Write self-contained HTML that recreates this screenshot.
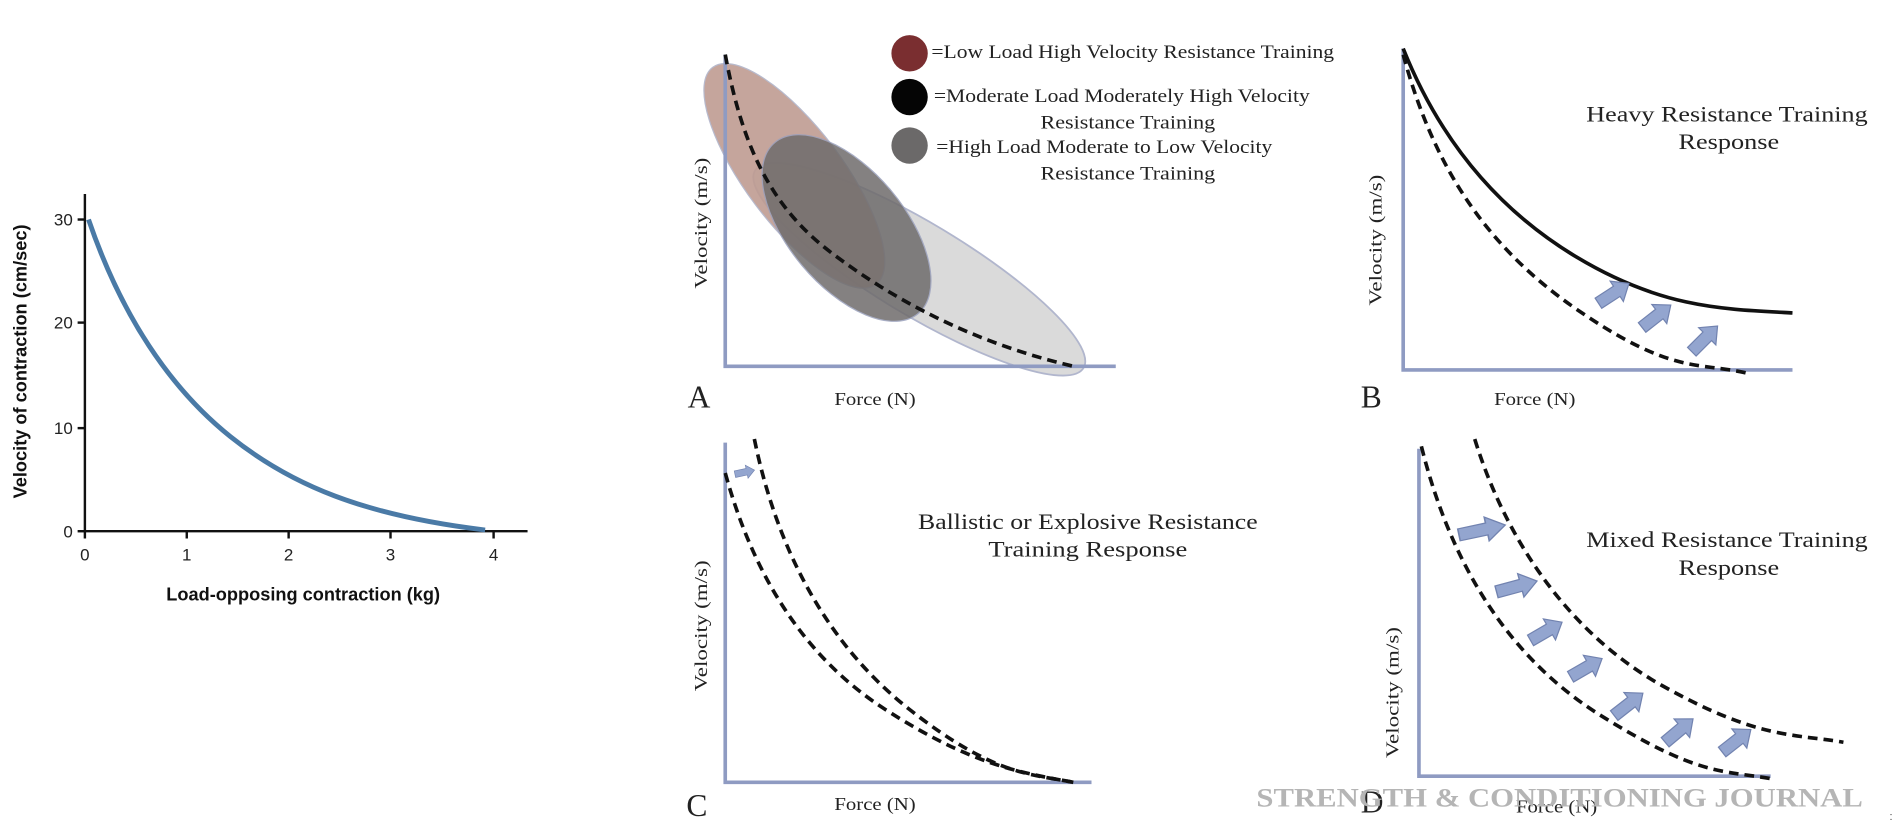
<!DOCTYPE html>
<html><head><meta charset="utf-8"><style>
html,body{margin:0;padding:0;background:#fff;width:1898px;height:832px;overflow:hidden}
svg{display:block}
.s{font-family:"Liberation Sans",sans-serif}
.r{font-family:"Liberation Serif",serif;fill:#222}
.d{fill:none;stroke:#111;stroke-width:3;stroke-dasharray:8 5}
.ax{stroke:#8f9bc2;stroke-width:3;fill:none}
</style></head><body>
<svg width="1898" height="832" viewBox="0 0 1565 686" preserveAspectRatio="none">
<defs>
<g id="ar"><polygon points="0,-5 18,-5 18,-10 30,0 18,10 18,5 0,5" fill="#93a5cf" stroke="#7283b0" stroke-width="1"/></g>
</defs>
<!-- Left chart -->
<g class="s">
<path d="M70 160 V438 H435" stroke="#111" stroke-width="2" fill="none"/>
<g stroke="#111" stroke-width="2">
<line x1="64" y1="181" x2="70" y2="181"/><line x1="64" y1="266" x2="70" y2="266"/><line x1="64" y1="353" x2="70" y2="353"/><line x1="64" y1="438" x2="70" y2="438"/>
<line x1="70" y1="438" x2="70" y2="444"/><line x1="154" y1="438" x2="154" y2="444"/><line x1="238" y1="438" x2="238" y2="444"/><line x1="322" y1="438" x2="322" y2="444"/><line x1="407" y1="438" x2="407" y2="444"/>
</g>
<g font-size="14" fill="#222" text-anchor="end">
<text x="60" y="186">30</text><text x="60" y="271">20</text><text x="60" y="358">10</text><text x="60" y="443">0</text>
</g>
<g font-size="14" fill="#222" text-anchor="middle">
<text x="70" y="462">0</text><text x="154" y="462">1</text><text x="238" y="462">2</text><text x="322" y="462">3</text><text x="407" y="462">4</text>
</g>
<text x="250" y="495" font-size="15" font-weight="bold" text-anchor="middle" fill="#111">Load-opposing contraction (kg)</text>
<text transform="translate(22,298) rotate(-90)" font-size="15" font-weight="bold" text-anchor="middle" fill="#111">Velocity of contraction (cm/sec)</text>
<path d="M73 181 C100 260,140 320,190 360 S300 425,400 437" stroke="#4a7aa6" stroke-width="4" fill="none"/>
</g>

<!-- Panel A -->
<ellipse cx="758" cy="222" rx="158" ry="38" transform="rotate(31 758 222)" fill="#d6d6d6" stroke="#a9afc8" stroke-width="1.5" opacity="0.9"/>
<ellipse cx="655" cy="145" rx="112" ry="40" transform="rotate(53 655 145)" fill="#bf9c92" stroke="#b0b3c8" opacity="0.9"/>
<ellipse cx="698" cy="188" rx="92" ry="48" transform="rotate(50 698 188)" fill="#6f6c6c" opacity="0.85" stroke="#9aa0bc"/>
<path class="ax" d="M598 45 V302 H920"/>
<path class="d" d="M598 45 C612 120,635 170,685 208 S800 282,885 302"/>
<circle cx="750" cy="44" r="15" fill="#7a2e30"/>
<circle cx="750" cy="80" r="15" fill="#050505"/>
<circle cx="750" cy="120" r="15" fill="#6b6969"/>
<g class="r" font-size="16">
<text x="768" y="48" textLength="332" lengthAdjust="spacingAndGlyphs">=Low Load High Velocity Resistance Training</text>
<text x="770" y="84" textLength="310" lengthAdjust="spacingAndGlyphs">=Moderate Load Moderately High Velocity</text>
<text x="858" y="106" textLength="144" lengthAdjust="spacingAndGlyphs">Resistance Training</text>
<text x="772" y="126" textLength="277" lengthAdjust="spacingAndGlyphs">=High Load Moderate to Low Velocity</text>
<text x="858" y="148" textLength="144" lengthAdjust="spacingAndGlyphs">Resistance Training</text>
<text x="567" y="336" font-size="26">A</text>
<text x="688" y="334" font-size="15" textLength="67" lengthAdjust="spacingAndGlyphs">Force (N)</text>
<text transform="translate(583,238) rotate(-90)" font-size="15" textLength="108" lengthAdjust="spacingAndGlyphs">Velocity (m/s)</text>
</g>

<!-- Panel B -->
<path class="ax" d="M1157 40 V305 H1478"/>
<path d="M1157 40 C1185 110,1230 170,1300 212 S1420 255,1478 258" stroke="#111" stroke-width="3" fill="none"/>
<path class="d" d="M1157 45 C1180 130,1220 200,1300 255 S1400 298,1442 308"/>
<use href="#ar" transform="translate(1318,250) rotate(-33)"/>
<use href="#ar" transform="translate(1354,270) rotate(-38)"/>
<use href="#ar" transform="translate(1395,290) rotate(-45)"/>
<g class="r" font-size="18">
<text x="1308" y="100" textLength="232" lengthAdjust="spacingAndGlyphs">Heavy Resistance Training</text>
<text x="1384" y="123" textLength="83" lengthAdjust="spacingAndGlyphs">Response</text>
<text x="1122" y="336" font-size="26">B</text>
<text x="1232" y="334" font-size="15" textLength="67" lengthAdjust="spacingAndGlyphs">Force (N)</text>
<text transform="translate(1139,252) rotate(-90)" font-size="15" textLength="108" lengthAdjust="spacingAndGlyphs">Velocity (m/s)</text>
</g>

<!-- Panel C -->
<path class="ax" d="M598 365 V645 H900"/>
<path class="d" d="M598 390 C620 470,660 540,730 585 S840 637,885 645"/>
<path class="d" d="M622 362 C640 450,680 530,750 585 S850 638,885 645"/>
<use href="#ar" transform="translate(606,391) rotate(-12) scale(0.55)"/>
<g class="r" font-size="18">
<text x="757" y="436" textLength="280" lengthAdjust="spacingAndGlyphs">Ballistic or Explosive Resistance</text>
<text x="815" y="459" textLength="164" lengthAdjust="spacingAndGlyphs">Training Response</text>
<text x="566" y="673" font-size="26">C</text>
<text x="688" y="668" font-size="15" textLength="67" lengthAdjust="spacingAndGlyphs">Force (N)</text>
<text transform="translate(583,570) rotate(-90)" font-size="15" textLength="108" lengthAdjust="spacingAndGlyphs">Velocity (m/s)</text>
</g>

<!-- Panel D -->
<path class="ax" d="M1170 370 V640 H1460"/>
<path class="d" d="M1172 368 C1195 460,1240 540,1320 590 S1420 635,1460 642"/>
<path class="d" d="M1216 362 C1240 440,1290 520,1370 565 S1480 605,1520 612"/>
<use href="#ar" transform="translate(1203,441) rotate(-12) scale(1.3 1)"/>
<use href="#ar" transform="translate(1234,488) rotate(-15) scale(1.15 1)"/>
<use href="#ar" transform="translate(1262,528) rotate(-30)"/>
<use href="#ar" transform="translate(1295,558) rotate(-30)"/>
<use href="#ar" transform="translate(1331,590) rotate(-38)"/>
<use href="#ar" transform="translate(1373,612) rotate(-40)"/>
<use href="#ar" transform="translate(1420,620) rotate(-38)"/>
<g class="r" font-size="18">
<text x="1308" y="451" textLength="232" lengthAdjust="spacingAndGlyphs">Mixed Resistance Training</text>
<text x="1384" y="474" textLength="83" lengthAdjust="spacingAndGlyphs">Response</text>
<text x="1250" y="670" font-size="15" textLength="67" lengthAdjust="spacingAndGlyphs">Force (N)</text>
<text transform="translate(1153,625) rotate(-90)" font-size="15" textLength="108" lengthAdjust="spacingAndGlyphs">Velocity (m/s)</text>
<text x="1122" y="670" font-size="26">D</text>
</g>
<text x="1036" y="665" font-family="Liberation Serif,serif" font-size="22" fill="#b5b5b5" font-weight="bold" textLength="500" lengthAdjust="spacingAndGlyphs">STRENGTH &amp; CONDITIONING JOURNAL</text>
<text x="1558" y="676" font-family="Liberation Sans,sans-serif" font-size="9" fill="#444">:</text>
</svg>
</body></html>
